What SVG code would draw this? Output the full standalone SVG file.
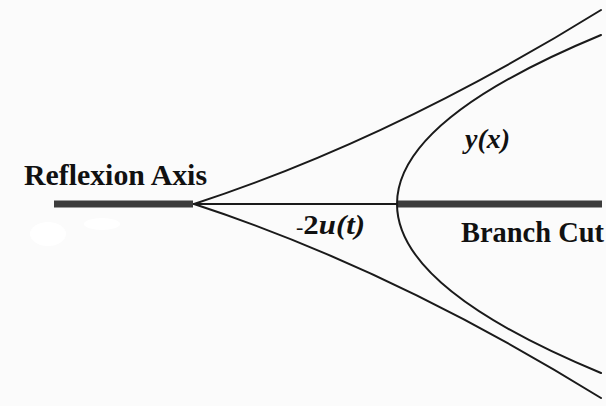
<svg xmlns="http://www.w3.org/2000/svg" width="606" height="406" viewBox="0 0 606 406">
<style>
.curve{fill:none;stroke:#1a1a1a;stroke-width:2;stroke-linecap:round}
.bar{fill:#3c3c3c}
.lbl{font-family:"Liberation Serif","Times New Roman",serif;fill:#111}
</style>
<rect width="606" height="406" fill="#fbfbfb"/>
<ellipse cx="48" cy="234" rx="18" ry="12" fill="#ffffff"/>
<ellipse cx="102" cy="224" rx="18" ry="6" fill="#ffffff"/>
<g id="reflexion-axis">
<rect class="bar" x="54" y="200.5" width="139" height="7"/>
<text class="lbl" x="24" y="184.5" font-size="29.5" font-weight="bold" textLength="183" lengthAdjust="spacingAndGlyphs">Reflexion Axis</text>
</g>
<g id="branch-cut">
<rect class="bar" x="397" y="200.5" width="205" height="7"/>
<text class="lbl" x="461" y="242" font-size="29" font-weight="bold" textLength="143" lengthAdjust="spacingAndGlyphs">Branch Cut</text>
</g>
<g id="connectors">
<path class="curve" d="M194,204 Q393,139 601,10"/>
<path class="curve" d="M194,204 Q393,269 601,398"/>
<path class="curve" d="M194,204 L397,204"/>
<path class="curve" d="M601,35 Q193,204 601,373"/>
</g>
<g id="u-label">
<text class="lbl" x="296" y="233.5" font-size="28" textLength="69" lengthAdjust="spacingAndGlyphs"><tspan font-size="20">-</tspan><tspan font-weight="bold">2</tspan><tspan font-weight="bold" font-style="italic">u(t)</tspan></text>
</g>
<g id="y-label">
<text class="lbl" x="465" y="148" font-size="28" font-weight="bold" font-style="italic" textLength="45" lengthAdjust="spacingAndGlyphs">y(x)</text>
</g>
</svg>
